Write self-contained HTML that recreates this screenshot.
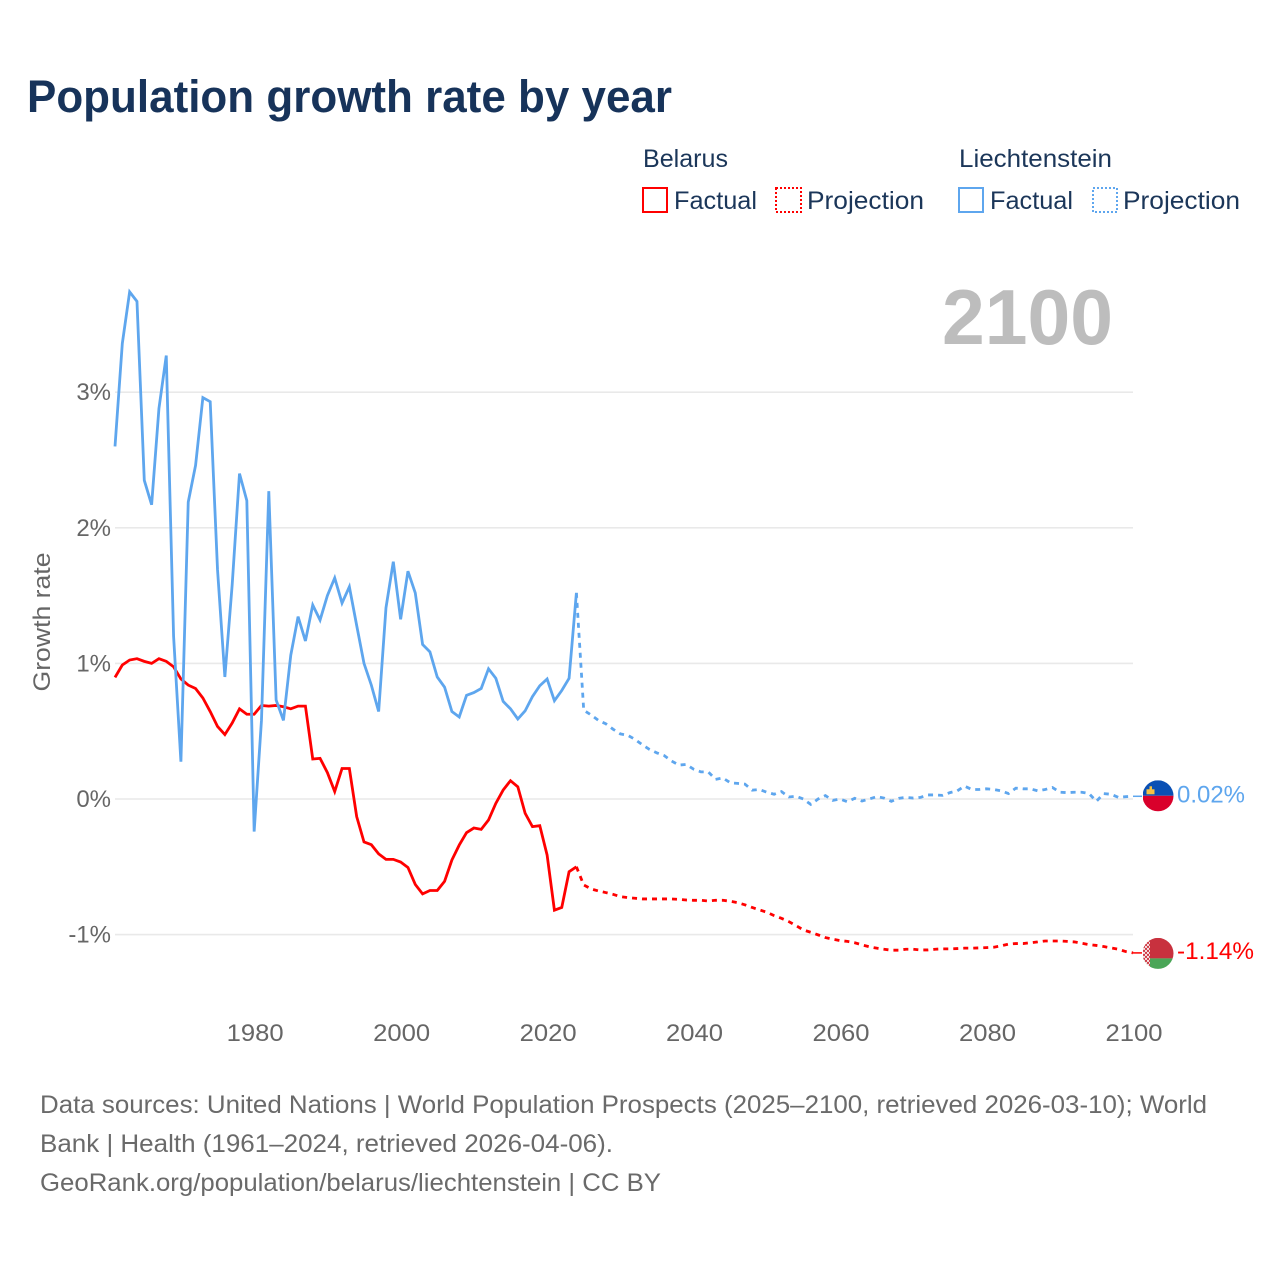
<!DOCTYPE html>
<html lang="en">
<head>
<meta charset="utf-8">
<title>Population growth rate by year</title>
<style>
html,body{margin:0;padding:0;background:#fff;}
svg{display:block;font-family:"Liberation Sans",sans-serif;}
.title{font-size:45px;font-weight:700;fill:#17335a;}
.legend{font-size:25px;fill:#1b3659;}
.tick{font-size:24px;fill:#666;}
.foot{font-size:25px;fill:#6a6a6a;}
</style>
</head>
<body>
<svg id="chart" xmlns="http://www.w3.org/2000/svg" width="1280" height="1280" viewBox="0 0 1280 1280">
  <defs>
    <clipPath id="clip-li"><circle cx="15" cy="15.5" r="15.5"></circle></clipPath>
    <clipPath id="clip-by"><circle cx="15" cy="15.5" r="15.5"></circle></clipPath>
    <pattern id="by-ornament" width="4" height="4" patternUnits="userSpaceOnUse">
      <rect width="4" height="4" fill="#f6e2e3"></rect>
      <rect x="0" y="0" width="2" height="2" fill="#cf3d48"></rect>
      <rect x="2" y="2" width="2" height="2" fill="#cf3d48"></rect>
    </pattern>
  </defs>

  <text class="title" x="27" y="112" textLength="645" lengthAdjust="spacingAndGlyphs">Population growth rate by year</text>

  <g>
    <text class="legend" x="643" y="167" textLength="85" lengthAdjust="spacingAndGlyphs">Belarus</text>
    <rect x="643" y="188" width="24" height="24" fill="none" stroke="#ff0000" stroke-width="2"></rect>
    <text class="legend" x="674" y="209" textLength="83" lengthAdjust="spacingAndGlyphs">Factual</text>
    <rect x="776" y="188" width="25" height="24" fill="none" stroke="#ff0000" stroke-width="2" stroke-dasharray="2 2"></rect>
    <text class="legend" x="807" y="209" textLength="117" lengthAdjust="spacingAndGlyphs">Projection</text>

    <text class="legend" x="959" y="167" textLength="153" lengthAdjust="spacingAndGlyphs">Liechtenstein</text>
    <rect x="959" y="188" width="24" height="24" fill="none" stroke="#5ea6ee" stroke-width="2"></rect>
    <text class="legend" x="990" y="209" textLength="83" lengthAdjust="spacingAndGlyphs">Factual</text>
    <rect x="1093" y="188" width="24" height="24" fill="none" stroke="#5ea6ee" stroke-width="2" stroke-dasharray="2 2"></rect>
    <text class="legend" x="1123" y="209" textLength="117" lengthAdjust="spacingAndGlyphs">Projection</text>
  </g>

  <text x="942" y="344" font-size="78" font-weight="700" fill="#bdbdbd" textLength="171" lengthAdjust="spacingAndGlyphs">2100</text>

  <text class="tick" transform="translate(50,622) rotate(-90)" text-anchor="middle" textLength="139" lengthAdjust="spacingAndGlyphs">Growth rate</text>

  <g id="grid"></g>
  <g id="yticks"></g>
  <g id="xticks"></g>
  <g id="series"></g>
  <g id="ends"></g>

  <g>
    <text class="foot" x="40" y="1113" textLength="1167" lengthAdjust="spacingAndGlyphs">Data sources: United Nations | World Population Prospects (2025–2100, retrieved 2026-03-10); World</text>
    <text class="foot" x="40" y="1152" textLength="573" lengthAdjust="spacingAndGlyphs">Bank | Health (1961–2024, retrieved 2026-04-06).</text>
    <text class="foot" x="40" y="1191" textLength="621" lengthAdjust="spacingAndGlyphs">GeoRank.org/population/belarus/liechtenstein | CC BY</text>
  </g>
</svg>

<script>
var firstYear = 1961;
var lastYear = 2100;
var projectionStartYear = 2024;
var xTickYears = [1980, 2000, 2020, 2040, 2060, 2080, 2100];
var yTickValues = [3, 2, 1, 0, -1];

var belarusFactual = [
  0.897,0.988,1.025,1.035,1.015,1.0,1.035,1.015,0.975,0.885,
  0.84,0.815,0.745,0.645,0.535,0.475,0.56,0.665,0.625,0.625,
  0.69,0.685,0.69,0.68,0.665,0.685,0.685,0.295,0.30,0.195,
  0.055,0.225,0.225,-0.13,-0.317,-0.337,-0.405,-0.445,-0.445,-0.465,
  -0.505,-0.63,-0.70,-0.675,-0.675,-0.607,-0.45,-0.34,-0.248,-0.214,
  -0.224,-0.155,-0.032,0.066,0.135,0.09,-0.105,-0.204,-0.197,-0.413,
  -0.82,-0.80,-0.536,-0.50
];
var belarusProjection = [
  -0.50,-0.634,-0.663,-0.678,-0.69,-0.703,-0.72,-0.727,-0.732,-0.737,
  -0.737,-0.737,-0.737,-0.737,-0.74,-0.745,-0.747,-0.747,-0.752,-0.747,
  -0.747,-0.754,-0.764,-0.78,-0.80,-0.818,-0.835,-0.86,-0.88,-0.904,
  -0.934,-0.966,-0.983,-1.002,-1.022,-1.034,-1.044,-1.05,-1.06,-1.076,
  -1.09,-1.10,-1.108,-1.115,-1.115,-1.108,-1.108,-1.113,-1.113,-1.108,
  -1.105,-1.105,-1.103,-1.10,-1.10,-1.098,-1.096,-1.093,-1.083,-1.07,
  -1.066,-1.066,-1.06,-1.054,-1.047,-1.047,-1.047,-1.05,-1.054,-1.064,
  -1.074,-1.08,-1.088,-1.098,-1.108,-1.125,-1.135
];
var liechtensteinFactual = [
  2.60,3.36,3.74,3.67,2.35,2.17,2.88,3.27,1.20,0.275,
  2.19,2.46,2.96,2.93,1.69,0.90,1.58,2.40,2.20,-0.24,
  0.58,2.27,0.73,0.58,1.06,1.345,1.165,1.43,1.32,1.50,
  1.63,1.445,1.565,1.28,1.00,0.84,0.645,1.41,1.75,1.325,
  1.68,1.52,1.14,1.085,0.90,0.825,0.645,0.605,0.765,0.785,
  0.815,0.96,0.89,0.72,0.665,0.59,0.65,0.755,0.835,0.885,
  0.725,0.80,0.89,1.52
];
var liechtensteinProjection = [
  1.52,0.655,0.62,0.58,0.555,0.515,0.48,0.47,0.44,0.40,
  0.365,0.34,0.32,0.28,0.25,0.255,0.22,0.20,0.20,0.145,
  0.155,0.12,0.115,0.11,0.065,0.07,0.05,0.035,0.055,0.015,
  0.02,0,-0.04,0,0.025,-0.01,0,-0.02,0.005,-0.015,
  0,0.017,0.007,-0.017,0.005,0.012,0.007,0.012,0.03,0.03,
  0.027,0.047,0.06,0.095,0.07,0.07,0.075,0.07,0.06,0.04,
  0.08,0.075,0.075,0.06,0.07,0.085,0.05,0.047,0.05,0.05,
  0.04,-0.017,0.04,0.035,0.012,0.017,0.02
];
var endLabels = ["-1.14%", "0.02%"];

var RED = "#ff0000";
var BLUE = "#5ea6ee";
var SVGNS = "http://www.w3.org/2000/svg";

function xScale(year) { return 115 + (year - firstYear) * (1018 / (lastYear - firstYear)); }
function yScale(value) { return 799 - value * 135.6; }

function svgEl(tag, attrs, parent) {
  var el = document.createElementNS(SVGNS, tag);
  for (var key in attrs) { el.setAttribute(key, attrs[key]); }
  parent.appendChild(el);
  return el;
}

function linePoints(values, startYear) {
  return values.map(function (v, i) {
    return xScale(startYear + i).toFixed(2) + "," + yScale(v).toFixed(2);
  }).join(" ");
}

var grid = document.getElementById("grid");
var yticks = document.getElementById("yticks");
yTickValues.forEach(function (v) {
  var gl = svgEl("line", { x1: xScale(firstYear), x2: xScale(lastYear), y1: yScale(v), y2: yScale(v), stroke: "#e9e9e9", "stroke-width": 1.6 }, grid);
  
  
  var label = svgEl("text", { x: 111, y: yScale(v) + 8, "text-anchor": "end", "class": "tick" }, yticks);
  
  
  label.textContent = v + "%";
});

var xticks = document.getElementById("xticks");
xTickYears.forEach(function (yr) {
  var label = svgEl("text", { x: xScale(yr) + 1, y: 1041, "text-anchor": "middle", "class": "tick", textLength: 57, lengthAdjust: "spacingAndGlyphs" }, xticks);
  
  
  label.textContent = yr;
});

var seriesGroup = document.getElementById("series");
function drawLine(values, startYear, color, dash, name) {
  var attrs = { points: linePoints(values, startYear), fill: "none", stroke: color, "stroke-width": 2.8, "stroke-linejoin": "miter" };
  if (dash) { attrs["stroke-dasharray"] = "5 5"; }
  var line = svgEl("polyline", attrs, seriesGroup);
  
  
}
drawLine(belarusProjection, projectionStartYear, RED, true, "belarus-projection-line");
drawLine(belarusFactual, firstYear, RED, false, "belarus-factual-line");
drawLine(liechtensteinProjection, projectionStartYear, BLUE, true, "liechtenstein-projection-line");
drawLine(liechtensteinFactual, firstYear, BLUE, false, "liechtenstein-factual-line");

var ends = document.getElementById("ends");
var byLast = belarusProjection[belarusProjection.length - 1];
var liLast = liechtensteinProjection[liechtensteinProjection.length - 1];
var xEnd = xScale(lastYear);

var byConn = svgEl("line", { x1: xEnd, x2: xEnd + 9, y1: yScale(byLast), y2: yScale(byLast), stroke: RED, "stroke-width": 1.5 }, ends);


var liConn = svgEl("line", { x1: xEnd, x2: xEnd + 9, y1: yScale(liLast), y2: yScale(liLast), stroke: BLUE, "stroke-width": 1.5 }, ends);



var liFlag = svgEl("g", { transform: "translate(1143," + (yScale(liLast) - 16) + ")" }, ends);


var liFlagInner = svgEl("g", { "clip-path": "url(#clip-li)" }, liFlag);
svgEl("rect", { x: 0, y: 0, width: 31, height: 15.5, fill: "#0a50b4" }, liFlagInner);
svgEl("rect", { x: 0, y: 15.5, width: 31, height: 16, fill: "#d9002b" }, liFlagInner);
svgEl("rect", { x: 3.5, y: 9, width: 8, height: 5, fill: "#f6c244" }, liFlagInner);
svgEl("rect", { x: 6.5, y: 6, width: 2.5, height: 4, fill: "#f6c244" }, liFlagInner);

var byFlag = svgEl("g", { transform: "translate(1143," + (yScale(byLast) - 15) + ")" }, ends);


var byFlagInner = svgEl("g", { "clip-path": "url(#clip-by)" }, byFlag);
svgEl("rect", { x: 0, y: 0, width: 31, height: 20.5, fill: "#c8313e" }, byFlagInner);
svgEl("rect", { x: 0, y: 20.5, width: 31, height: 11, fill: "#4aa657" }, byFlagInner);
svgEl("rect", { x: 0, y: 0, width: 7, height: 31, fill: "url(#by-ornament)" }, byFlagInner);

var byLabel = svgEl("text", { x: 1177, y: yScale(byLast) + 6, "font-size": 24.5, fill: RED, textLength: 77, lengthAdjust: "spacingAndGlyphs" }, ends);


byLabel.textContent = endLabels[0];
var liLabel = svgEl("text", { x: 1177, y: yScale(liLast) + 6, "font-size": 24.5, fill: BLUE, textLength: 68, lengthAdjust: "spacingAndGlyphs" }, ends);


liLabel.textContent = endLabels[1];
</script>
</body>
</html>
